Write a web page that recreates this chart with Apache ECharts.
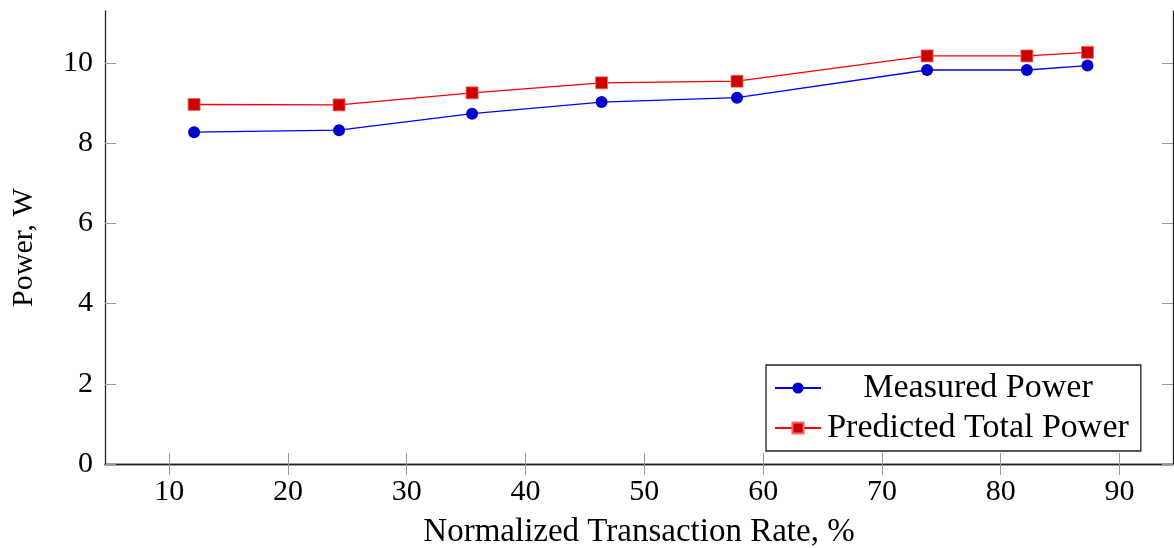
<!DOCTYPE html>
<html>
<head>
<meta charset="utf-8">
<script src="https://cdn.jsdelivr.net/npm/echarts@6/dist/echarts.min.js"></script>
<style>
  html, body { margin: 0; padding: 0; background: #fff; }
  #main { width: 1174px; height: 548px; }
</style>
</head>
<body>
<div id="main"></div>
<script>
  // transaction rate (%) and power (W)
  var rates = [12.1, 24.3, 35.5, 46.4, 57.8, 73.8, 82.2, 87.3];
  var measured = [8.27, 8.32, 8.73, 9.02, 9.13, 9.82, 9.82, 9.93];
  var predicted = [8.96, 8.95, 9.25, 9.50, 9.54, 10.17, 10.17, 10.26];
  var xTicks = [10, 20, 30, 40, 50, 60, 70, 80, 90];
  var yTicks = [0, 2, 4, 6, 8, 10];

  var font = "'Liberation Serif', 'DejaVu Serif', serif";
  var frame = { show: true, lineStyle: { color: '#222', width: 1.3 } };
  var tick = { inside: true, length: 11, lineStyle: { color: '#999', width: 1 } };

  function pairs (ys) {
    return rates.map(function (x, i) { return [x, ys[i]]; });
  }

  var chart = echarts.init(document.getElementById('main'));
  chart.setOption({
    animation: false,
    textStyle: { fontFamily: font, color: '#000' },
    grid: { left: 105, top: 11, right: 1, bottom: 84, containLabel: false, outerBoundsMode: 'none' },
    xAxis: [{
      type: 'value', min: 4.6, max: 94.5,
      name: 'Normalized Transaction Rate, %', nameLocation: 'middle', nameGap: 52,
      nameTextStyle: { fontFamily: font, fontSize: 33, color: '#000' },
      axisLine: frame,
      axisTick: Object.assign({ customValues: xTicks }, tick),
      axisLabel: { customValues: xTicks, fontFamily: font, fontSize: 30, color: '#000', margin: 13 },
      splitLine: { show: false }
    }, {
      type: 'value', position: 'top', min: 4.6, max: 94.5,
      axisLine: frame,
      axisTick: Object.assign({ customValues: xTicks }, tick),
      axisLabel: { show: false },
      splitLine: { show: false }
    }],
    yAxis: [{
      type: 'value', min: 0, max: 11.29,
      name: 'Power, W', nameLocation: 'middle', nameGap: 66,
      nameTextStyle: { fontFamily: font, fontSize: 30, color: '#000', padding: [0, 20, 0, 0] },
      axisLine: frame,
      axisTick: Object.assign({ customValues: yTicks }, tick),
      axisLabel: { customValues: yTicks, fontFamily: font, fontSize: 30, color: '#000', margin: 12 },
      splitLine: { show: false }
    }, {
      type: 'value', position: 'right', min: 0, max: 11.29,
      axisLine: frame,
      axisTick: Object.assign({ customValues: yTicks }, tick),
      axisLabel: { show: false },
      splitLine: { show: false }
    }],
    legend: {
      orient: 'vertical', left: 766, top: 365,
      backgroundColor: '#fff', borderColor: '#222', borderWidth: 1.3,
      padding: [6, 12, 6, 8], itemGap: 6,
      itemWidth: 46, itemHeight: 14,
      data: ['Measured Power', 'Predicted Total Power'],
      formatter: function (name) { return '{t|' + name + '}'; },
      textStyle: {
        fontFamily: font, fontSize: 34, color: '#000',
        rich: { t: { fontFamily: font, fontSize: 34, width: 304, align: 'center' } }
      }
    },
    series: [{
      name: 'Measured Power', type: 'line',
      data: pairs(measured),
      symbol: 'circle', symbolSize: 12,
      lineStyle: { color: '#0000ff', width: 1.3 },
      itemStyle: { color: '#0000cc', borderColor: '#0000cc', borderWidth: 0 }
    }, {
      name: 'Predicted Total Power', type: 'line',
      data: pairs(predicted),
      symbol: 'rect', symbolSize: 12,
      lineStyle: { color: '#ff0000', width: 1.3 },
      itemStyle: { color: '#cc0000', borderColor: '#ff6666', borderWidth: 0.8 }
    }]
  });
</script>
</body>
</html>
